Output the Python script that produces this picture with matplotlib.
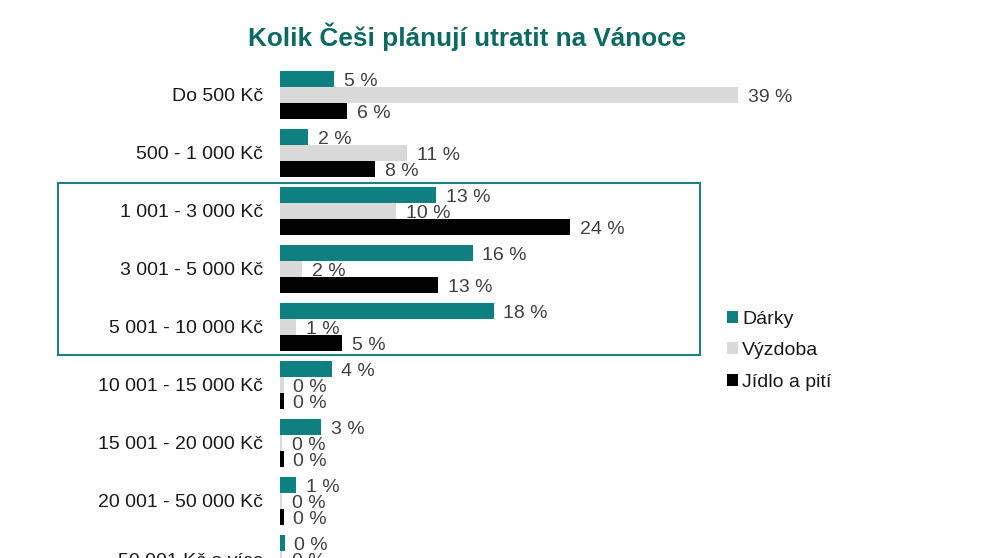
import numpy as np
import matplotlib
matplotlib.use("Agg")
import matplotlib.pyplot as plt
from matplotlib.patches import Rectangle

plt.rcParams["font.family"] = ["Liberation Sans", "DejaVu Sans"]

# data
categories = ["Do 500 Kč", "500 - 1 000 Kč", "1 001 - 3 000 Kč", "3 001 - 5 000 Kč",
              "5 001 - 10 000 Kč", "10 001 - 15 000 Kč", "15 001 - 20 000 Kč",
              "20 001 - 50 000 Kč", "50 001 Kč a více"]
series_names = ["Dárky", "Výzdoba", "Jídlo a pití"]
darky = [4.6, 2.4, 13.3, 16.4, 18.2, 4.4, 3.5, 1.4, 0.4]
vyzdoba = [39.0, 10.8, 9.9, 1.9, 1.4, 0.3, 0.2, 0.2, 0.2]
jidlo = [5.7, 8.1, 24.7, 13.5, 5.3, 0.3, 0.3, 0.3, 0.3]
labels_darky = ["5 %", "2 %", "13 %", "16 %", "18 %", "4 %", "3 %", "1 %", "0 %"]
labels_vyzdoba = ["39 %", "11 %", "10 %", "2 %", "1 %", "0 %", "0 %", "0 %", "0 %"]
labels_jidlo = ["6 %", "8 %", "24 %", "13 %", "5 %", "0 %", "0 %", "0 %", "0 %"]

colors = ["#0f8080", "#d9d9d9", "#000000"]
W, H = 991, 558

fig = plt.figure(figsize=(W / 100, H / 100), dpi=100)
# axes: x zero at px 280, 1 % = 11.74 px; first group centre at y=95, step 58 px
top_px = 68
bot_val = 8.35
bot_px = 95 + 58 * bot_val
top_val = (top_px - 95) / 58
x_right = 40
ax = fig.add_axes([280 / W, 1 - bot_px / H, x_right * 11.74 / W, (bot_px - top_px) / H])

y = np.arange(len(categories))
h = 0.276
series = [darky, vyzdoba, jidlo]
labels = [labels_darky, labels_vyzdoba, labels_jidlo]
offsets = [-h, 0, h]
for vals, labs, off, col, name in zip(series, labels, offsets, colors, series_names):
    bars = ax.barh(y + off, vals, height=h, color=col, label=name)
    texts = ax.bar_label(bars, labels=labs, padding=7, fontsize=14, color="#404040")
    # labels sit a little lower than the bar centre in the original
    for t in texts:
        t.xyann = (7, -1.5)

ax.set_xlim(0, x_right)
ax.set_ylim(bot_val, top_val)
ax.set_yticks(y)
ax.set_yticklabels(categories, fontsize=14, color="#1a1a1a")
ax.tick_params(axis="y", length=0, pad=12)
ax.set_xticks([])
for s in ax.spines.values():
    s.set_visible(False)

fig.text(467 / W, 1 - 37 / H, "Kolik Češi plánují utratit na Vánoce", ha="center", va="center",
         fontsize=18.8, fontweight="bold", color="#0d6a63")

# highlight box around middle categories
fig.patches.append(Rectangle((58 / W, 1 - 355 / H), (700 - 58) / W, (355 - 183) / H,
                             transform=fig.transFigure, fill=False, edgecolor="#1f7f7f", lw=1.5))

handles, names = ax.get_legend_handles_labels()
fig.legend(handles, names, loc="upper left", bbox_to_anchor=(709 / W, 1 - 293 / H),
           frameon=False, fontsize=14, handlelength=0.6, handleheight=0.6,
           handletextpad=0.2, labelspacing=0.75, labelcolor="#1a1a1a")

fig.savefig("out.png", dpi=100)
